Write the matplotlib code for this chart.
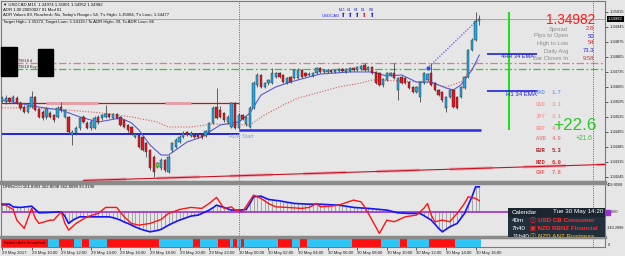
import matplotlib
matplotlib.use("Agg")
import matplotlib.pyplot as plt
from matplotlib.patches import Rectangle
import numpy as np

plt.rcParams["font.family"] = ["Liberation Sans", "DejaVu Sans", "Noto Sans CJK JP"]

W, H = 625, 256
BG = "#e6e6e6"
FRAME = "#7a7a7a"

# USDCAD M15, 29 May 08:00 .. 30 May 16:15 (one value per bar)
opens = [1.34598, 1.34594, 1.34612, 1.34598, 1.34612, 1.34589, 1.34570, 1.34547, 1.34570, 1.34617,
         1.34561, 1.34547, 1.34524, 1.34542, 1.34533, 1.34524, 1.34570, 1.34524, 1.34524, 1.34440,
         1.34449, 1.34472, 1.34524, 1.34496, 1.34472, 1.34472, 1.34524, 1.34519, 1.34524, 1.34538,
         1.34519, 1.34538, 1.34524, 1.34510, 1.34486, 1.34477, 1.34430, 1.34440, 1.34430, 1.34402,
         1.34370, 1.34337, 1.34290, 1.34285, 1.34323, 1.34267, 1.34370, 1.34383, 1.34407, 1.34430,
         1.34454, 1.34435, 1.34440, 1.34440, 1.34444, 1.34435, 1.34454, 1.34496, 1.34570, 1.34556,
         1.34542, 1.34500, 1.34477, 1.34589, 1.34472, 1.34533, 1.34491, 1.34477, 1.34566, 1.34673,
         1.34720, 1.34664, 1.34682, 1.34682, 1.34710, 1.34729, 1.34720, 1.34682, 1.34710, 1.34706,
         1.34706, 1.34743, 1.34729, 1.34720, 1.34715, 1.34729, 1.34752, 1.34734, 1.34734, 1.34743,
         1.34734, 1.34738, 1.34748, 1.34734, 1.34738, 1.34752, 1.34743, 1.34748, 1.34766, 1.34743,
         1.34757, 1.34734, 1.34729, 1.34673, 1.34696, 1.34720, 1.34729, 1.34650, 1.34710, 1.34706,
         1.34687, 1.34664, 1.34640, 1.34617, 1.34682, 1.34696, 1.34729, 1.34682, 1.34650, 1.34640,
         1.34566, 1.34617, 1.34650, 1.34617, 1.34617, 1.34659, 1.34710, 1.34836, 1.34883, 1.34974]
highs = [1.34622, 1.34626, 1.34617, 1.34626, 1.34622, 1.34598, 1.34580, 1.34584, 1.34645, 1.34622,
         1.34566, 1.34556, 1.34570, 1.34552, 1.34538, 1.34575, 1.34594, 1.34561, 1.34528, 1.34463,
         1.34482, 1.34524, 1.34533, 1.34505, 1.34510, 1.34528, 1.34533, 1.34538, 1.34580, 1.34542,
         1.34542, 1.34542, 1.34528, 1.34514, 1.34491, 1.34482, 1.34449, 1.34444, 1.34435, 1.34407,
         1.34374, 1.34346, 1.34313, 1.34332, 1.34327, 1.34346, 1.34407, 1.34426, 1.34440, 1.34458,
         1.34458, 1.34458, 1.34449, 1.34444, 1.34449, 1.34463, 1.34500, 1.34575, 1.34659, 1.34575,
         1.34547, 1.34533, 1.34594, 1.34594, 1.34542, 1.34538, 1.34528, 1.34575, 1.34692, 1.34729,
         1.34724, 1.34687, 1.34701, 1.34752, 1.34734, 1.34734, 1.34724, 1.34710, 1.34715, 1.34748,
         1.34752, 1.34748, 1.34734, 1.34734, 1.34734, 1.34757, 1.34757, 1.34748, 1.34748, 1.34748,
         1.34748, 1.34752, 1.34752, 1.34752, 1.34757, 1.34757, 1.34762, 1.34766, 1.34776, 1.34762,
         1.34762, 1.34738, 1.34734, 1.34706, 1.34734, 1.34734, 1.34776, 1.34710, 1.34715, 1.34710,
         1.34692, 1.34668, 1.34668, 1.34692, 1.34734, 1.34729, 1.34776, 1.34687, 1.34654, 1.34645,
         1.34622, 1.34654, 1.34654, 1.34622, 1.34668, 1.34715, 1.34841, 1.34893, 1.35015, 1.35001]
lows = [1.34589, 1.34584, 1.34589, 1.34594, 1.34584, 1.34556, 1.34542, 1.34542, 1.34566, 1.34552,
        1.34519, 1.34510, 1.34514, 1.34519, 1.34500, 1.34519, 1.34547, 1.34519, 1.34444, 1.34393,
        1.34440, 1.34463, 1.34496, 1.34468, 1.34463, 1.34468, 1.34491, 1.34510, 1.34519, 1.34519,
        1.34514, 1.34514, 1.34482, 1.34472, 1.34454, 1.34440, 1.34426, 1.34379, 1.34365, 1.34337,
        1.34276, 1.34243, 1.34285, 1.34276, 1.34267, 1.34262, 1.34360, 1.34379, 1.34402, 1.34426,
        1.34435, 1.34430, 1.34426, 1.34426, 1.34421, 1.34430, 1.34449, 1.34491, 1.34514, 1.34519,
        1.34500, 1.34491, 1.34472, 1.34468, 1.34468, 1.34510, 1.34482, 1.34472, 1.34561, 1.34664,
        1.34659, 1.34659, 1.34673, 1.34678, 1.34706, 1.34706, 1.34682, 1.34678, 1.34682, 1.34701,
        1.34701, 1.34706, 1.34710, 1.34715, 1.34710, 1.34724, 1.34729, 1.34729, 1.34729, 1.34729,
        1.34729, 1.34734, 1.34734, 1.34729, 1.34734, 1.34738, 1.34738, 1.34743, 1.34738, 1.34738,
        1.34724, 1.34678, 1.34668, 1.34664, 1.34692, 1.34715, 1.34701, 1.34603, 1.34678, 1.34678,
        1.34654, 1.34636, 1.34636, 1.34594, 1.34678, 1.34692, 1.34668, 1.34645, 1.34622, 1.34594,
        1.34547, 1.34612, 1.34566, 1.34561, 1.34612, 1.34654, 1.34706, 1.34832, 1.34879, 1.34952]
closes = [1.34612, 1.34612, 1.34598, 1.34617, 1.34589, 1.34566, 1.34547, 1.34575, 1.34617, 1.34556,
          1.34524, 1.34519, 1.34561, 1.34524, 1.34510, 1.34566, 1.34556, 1.34556, 1.34454, 1.34454,
          1.34472, 1.34519, 1.34500, 1.34472, 1.34500, 1.34519, 1.34500, 1.34533, 1.34538, 1.34524,
          1.34538, 1.34519, 1.34486, 1.34477, 1.34463, 1.34449, 1.34444, 1.34383, 1.34370, 1.34360,
          1.34285, 1.34267, 1.34309, 1.34323, 1.34276, 1.34337, 1.34402, 1.34416, 1.34430, 1.34449,
          1.34440, 1.34449, 1.34430, 1.34430, 1.34430, 1.34458, 1.34496, 1.34566, 1.34519, 1.34524,
          1.34510, 1.34524, 1.34589, 1.34472, 1.34533, 1.34514, 1.34524, 1.34566, 1.34682, 1.34720,
          1.34664, 1.34682, 1.34696, 1.34729, 1.34729, 1.34710, 1.34687, 1.34706, 1.34687, 1.34743,
          1.34743, 1.34710, 1.34715, 1.34724, 1.34729, 1.34752, 1.34734, 1.34743, 1.34743, 1.34734,
          1.34743, 1.34748, 1.34738, 1.34748, 1.34752, 1.34743, 1.34757, 1.34762, 1.34743, 1.34757,
          1.34729, 1.34682, 1.34673, 1.34701, 1.34729, 1.34729, 1.34706, 1.34706, 1.34682, 1.34682,
          1.34659, 1.34640, 1.34664, 1.34687, 1.34729, 1.34724, 1.34673, 1.34650, 1.34626, 1.34603,
          1.34617, 1.34650, 1.34570, 1.34566, 1.34664, 1.34710, 1.34836, 1.34883, 1.34972, 1.34982]
signal_bar = 42

# moving averages (bar, price)
ma_fast_x = [0, 10, 16, 21, 26, 32, 35, 37, 40, 43, 45, 47, 50, 54, 56, 59, 62, 64, 67, 70,
             74, 78, 82, 86, 94, 100, 104, 108, 112, 116, 120, 122, 124, 127, 129]
ma_fast_y = [1.34603, 1.34570, 1.34556, 1.34524, 1.34500, 1.34519, 1.34496, 1.34463, 1.34393, 1.34346,
             1.34346, 1.34370, 1.34407, 1.34430, 1.34454, 1.34486, 1.34496, 1.34500, 1.34542, 1.34626,
             1.34664, 1.34687, 1.34706, 1.34724, 1.34734, 1.34734, 1.34715, 1.34720, 1.34687, 1.34687,
             1.34659, 1.34650, 1.34673, 1.34743, 1.34813]
ma_slow_x = [0, 8, 18, 27, 35, 42, 45, 51, 57, 67, 71, 76, 80, 86, 91, 97, 100, 108, 116, 120, 124, 126, 129]
ma_slow_y = [1.34566, 1.34566, 1.34556, 1.34542, 1.34524, 1.34500, 1.34477, 1.34477, 1.34491, 1.34486,
             1.34533, 1.34580, 1.34612, 1.34640, 1.34664, 1.34682, 1.34696, 1.34692, 1.34682, 1.34664,
             1.34687, 1.34729, 1.34790]

# levels
bid = 1.34982
fib_sell = 1.34777
fib_buy = 1.34749
prev_high = 1.34587
prev_low = 1.34443
adr_start = 1.34465
ema_4h = 1.34818
ema_1h = 1.34646
trend_x = [115, 128.4]
trend_y = [1.34752, 1.34975]
channel_x = [22, 163]
channel_y = [1.34227, 1.34302]
target_bar = 137
target_y = [1.34463, 1.35014]
day_start = 64
price_ticks = [1.35015, 1.34945, 1.34875, 1.34805, 1.34735, 1.34665,
               1.34595, 1.34525, 1.34455, 1.34385, 1.34315, 1.34245]

# CCI panel
cci_fast = [111, 111, 111, 73, 68, 65, 70, 76, 83, 35,
            -11, -10, -8, -5, -3, 0, 3, -60, -161, -120,
            -90, -68, -68, -68, -68, -68, -68, -68, -68, -68,
            -80, -95, -114, -140, -160, -185, -210, -231, -250, -265,
            -279, -270, -260, -245, -215, -185, -160, -135, -114, -95,
            -75, -58, -50, -44, -20, 5, 27, 60, 97, 80,
            65, 45, 27, 27, 27, 30, 37, 120, 214, 220,
            224, 200, 178, 170, 163, 158, 148, 138, 130, 121,
            118, 116, 113, 111, 111, 110, 110, 107, 104, 101,
            99, 97, 90, 82, 74, 65, 61, 58, 54, 51,
            46, 42, 37, 32, 27, 14, 2, -11, -14, -17,
            -20, -20, -20, -20, -50, -82, -114, -170, -231, -279,
            -245, -209, -185, -161, -90, -20, 97, 214, 355, 355]
cci_slow_x = [0, 1, 3, 4, 6, 8, 9, 10, 13, 14, 16, 17, 18, 20, 23, 26, 28, 31, 33, 35,
              37, 40, 43, 45, 48, 51, 54, 56, 58, 60, 62, 63, 65, 68, 70, 72, 74, 77, 81, 83,
              85, 86, 89, 91, 95, 97, 98, 100, 102, 104, 106, 108, 109, 112, 114, 115, 116, 117, 119, 121,
              123, 125, 126, 128, 129]
cci_slow = [97, 97, 36, -114, -231, 51, -90, -161, -114, -114, 3, -161, -255, -161, -67, -20, 65, 65, -67, -161,
            -185, -161, -105, -20, 36, 65, 51, 121, 206, 51, 73, 27, 3, 238, 192, 121, 73, 65, 51, 65,
            121, 73, 83, 97, 168, 145, 73, -114, -302, -114, -137, -90, -67, -43, 51, 121, -43, -137, -114, -137,
            -20, 121, 215, 192, 159]

# Heiken Ashi strip as runs
ha_runs = [("R", 13), ("C", 3), ("R", 4), ("C", 2), ("R", 2), ("C", 5), ("R", 14), ("C", 9), ("R", 2),
           ("C", 5), ("R", 3), ("C", 1), ("R", 1), ("C", 1), ("R", 1), ("C", 9), ("R", 4), ("C", 2),
           ("R", 2), ("C", 12), ("R", 8), ("C", 5), ("R", 2), ("C", 6), ("R", 7), ("C", 7)]

date_labels = ["29 May 2017", "29 May 10:00", "29 May 12:00", "29 May 14:00", "29 May 16:00",
               "29 May 18:00", "29 May 20:00", "29 May 22:00", "30 May 00:00", "30 May 02:00",
               "30 May 04:00", "30 May 06:00", "30 May 08:00", "30 May 10:00", "30 May 12:00",
               "30 May 14:00", "30 May 16:00"]

currencies = ["CAD", "USD", "JPY", "GBP", "AUD", "EUR", "NZD", "CHF"]
strength = [1.7, 3.1, 3.1, 4.2, 4.9, 5.3, 6.0, 7.6]
cur_colors = ["#7a9eee", "#f0a0a0", "#f0a0a0", "#eca0a0", "#e08888", "#a02828", "#c82828", "#e06a6a"]

info_names = ["Spread", "Pips to Open", "High to Low", "Daily Avg", "Bar Closes In"]
info_vals = ["2.8", "50", "54", "73.3", "9:58"]
info_cols = ["#d03030", "#2b2bd8", "#c83030", "#2b2bd8", "#c04040"]

fig = plt.figure(figsize=(W / 100, H / 100), dpi=100, facecolor=BG)
XL = (-0.27, 162.97)


def px_axes(x0, y0, x1, y1, z=1):
    a = fig.add_axes([x0 / W, 1 - y1 / H, (x1 - x0) / W, (y1 - y0) / H], zorder=z)
    a.set_facecolor(BG)
    a.set_xlim(*XL)
    for s in a.spines.values():
        s.set_color(FRAME)
        s.set_linewidth(0.8)
    return a


# ---- main price chart
ax = px_axes(1, 1, 605, 181)
ax.set_ylim(1.342247, 1.350653)
idx = np.arange(len(closes))
o = np.array(opens)
c = np.array(closes)
up = c >= o
cols = np.where(up, "#20a8e4", "#e8121a")
cols[signal_bar] = "#5ee83a"

ax.axhline(bid, color="#9c9c9c", lw=0.6, zorder=1)
ax.axhline(fib_sell, color="#e47c7c", lw=0.9, ls=(0, (6, 2, 1.5, 2)), zorder=1)
ax.axhline(fib_buy, color="#3cc23c", lw=0.9, ls=(0, (6, 2, 1.5, 2)), zorder=1)
ax.hlines(prev_high, XL[0], day_start, color="#cc1010", lw=0.9, zorder=1)
ax.hlines(prev_high + 0.00003, 12, 26, color="#e4a0a8", lw=2.2, zorder=1)
ax.hlines(prev_high + 0.00003, 44, 51, color="#e4a0a8", lw=2.2, zorder=1)
ax.hlines(prev_low, XL[0], day_start, color="#0000dd", lw=1.2, zorder=1)
ax.hlines(adr_start - 0.00008, day_start, 129.5, color="#f6f0cc", lw=0.8, zorder=1)
ax.hlines(adr_start, day_start, 129.5, color="#2a2ae0", lw=1.8, zorder=1)
ax.plot(channel_x, channel_y, color="#e8a6b0", lw=2.2, ls=(0, (14, 10)), zorder=1)
ax.plot(channel_x, channel_y, color="#cc1020", lw=0.8, zorder=1)

ax.plot(ma_slow_x, ma_slow_y, color="#e05a5a", lw=0.8, ls=(0, (1, 1.5)), zorder=2)
ax.plot(ma_fast_x, ma_fast_y, color="#5a5ad6", lw=0.8, zorder=2)

ax.vlines(idx, lows, highs, color="#4a4a4a", lw=0.6, zorder=3)
body = np.maximum(np.abs(c - o), 0.000015)
ax.bar(idx, body, bottom=np.minimum(o, c), width=0.62, color=cols,
       edgecolor="#2a2a2a", linewidth=0.3, zorder=4)

ax.plot(trend_x, trend_y, color="#3a3aee", lw=0.8, ls=(0, (1, 1.5)), zorder=5)
ax.plot(trend_x[0], trend_y[0], "o", ms=2, color="#2a48e0", zorder=5)
ax.vlines(target_bar, target_y[0], target_y[1], color="#22dd22", lw=1.5, zorder=5)
ax.hlines(ema_4h, 131, 144.6, color="#2020e0", lw=1.2, zorder=5)
ax.hlines(ema_1h, 131, 144.8, color="#2020e0", lw=1.2, zorder=5)

ax.set_xticks([])
ax.yaxis.tick_right()
ax.set_yticks(price_ticks)
ax.set_yticklabels([f"{p:.5f}" for p in price_ticks])
ax.tick_params(axis="y", length=2, width=0.5, pad=1.5, labelsize=3.0, colors="#202020")

# ---- CCI panel
cax = px_axes(1, 184, 605, 236)
cax.set_ylim(-338, 395)
cax.vlines(idx, 0, cci_fast, color="#8c8c8c", lw=0.5, zorder=1)
cax.axhline(0, color="#9a30d0", lw=1.2, zorder=2)
cax.plot(idx, cci_fast, color="#1414ff", lw=1.2, zorder=3)
cax.plot(cci_slow_x, cci_slow, color="#ff1414", lw=1.0, zorder=3)
cax.set_xticks([])
cax.set_yticks([])

# ---- Heiken Ashi strip
sax = px_axes(1, 238, 605, 247)
ha = []
for col, n in ha_runs:
    ha += [("#ff1010" if col == "R" else "#2ec6f6")] * n
sax.bar(np.arange(len(ha)), 1, width=1.0, bottom=0, color=ha, linewidth=0)
sax.set_ylim(0, 1)
sax.set_yticks([])
sax.set_xticks(np.arange(0, 129, 8))
sax.set_xticklabels(date_labels, ha="left")
sax.tick_params(axis="x", length=2, width=0.5, pad=1, labelsize=3.1, colors="#202020")

for a in (ax, cax, sax):
    a.axvline(day_start, color="#555555", lw=0.6, ls=(0, (1.2, 1.5)), zorder=6)
    a.axvline(159.7, color="#555555", lw=0.6, ls=(0, (1.2, 1.5)), zorder=6)

# ---- overlay texts in pixel coords
ov = fig.add_axes([0, 0, 1, 1], zorder=10)
ov.set_xlim(0, W)
ov.set_ylim(H, 0)
ov.axis("off")
ov.patch.set_alpha(0)

ov.add_patch(Rectangle((0, 181), 606, 3, color="#8a8a8a"))
ov.add_patch(Rectangle((0, 236), 606, 2, color="#8a8a8a"))

hdr = ["\u25bc USDCAD,M15  1.34974 1.35001 1.34952 1.34982",
       "ADR 1.00 20050027 01 Mod 01",
       "ADR Values 89, Reached= No, Today's Range= 54, T's High= 1.35004, T's Low= 1.34477",
       "Target High= 1.35372, Target Low= 1.34119 / To ADR High= 39, To ADR Low= 86"]
for t, yy in zip(hdr, [5, 10, 15, 22]):
    ov.text(3, yy, t, fontsize=3.1, color="#101010", va="center")

ov.add_patch(Rectangle((1, 47), 16, 29, color="black"))
ov.add_patch(Rectangle((38, 49), 15, 27, color="black"))
ov.text(18, 61, "79618 d", fontsize=2.8, color="#602020", va="center")
ov.text(18, 67, "79618 Buy", fontsize=2.8, color="#303030", va="center")
ov.text(229, 136, "ADR Start", fontsize=4, color="#7ea2c8", va="center")

ov.text(322, 16, "USDCAD", fontsize=3.1, color="#2a2ae0", va="center")
for t, xx, cc in zip(["M15", "H1", "H4", "D1", "W1"], [342, 349, 356, 363, 371],
                     ["#2020d0", "#2020d0", "#2020d0", "#e02020", "#2020d0"]):
    ov.text(xx, 10, t, fontsize=2.4, color="#2020d0", ha="center", va="center")
    ov.text(xx, 15.5, "\u2b06", fontsize=4, color=cc, ha="center", va="center")

ov.text(501, 57, "4HR 34 EMA", fontsize=4.0, color="#2020d0", va="center")
ov.text(506, 94, "H1 34 EMA", fontsize=4.3, color="#2020d0", va="center")

ov.text(595, 20, "1.34982", fontsize=9.8, color="#ff1a1a", ha="right", va="center")
for k, (nm, vv, cc) in enumerate(zip(info_names, info_vals, info_cols)):
    yy = [29, 36, 43, 51, 58][k]
    ov.text(568, yy, nm, fontsize=4.2, color="#8c8c8c", ha="right", va="center")
    ov.text(594, yy, vv, fontsize=4.2, color=cc, ha="right", va="center")

for k, (cu, sv, cc) in enumerate(zip(currencies, strength, cur_colors)):
    yy = [93, 105, 116, 128, 139, 151, 162, 173][k]
    ov.text(536, yy, cu, fontsize=4, color=cc, family="Liberation Mono",
            weight="bold", va="center")
    ov.text(552, yy, f"{sv:.1f}", fontsize=4, color=cc, family="Liberation Mono",
            weight="bold", va="center")

ov.text(597, 125, "+22.6", fontsize=12.3, color="#2ec52e", ha="right", va="center")
ov.text(592, 139, "+21.6", fontsize=4.8, color="#2ec52e", ha="right", va="center")

ov.text(608, 19, "1.34982", fontsize=3.0, color="white", va="center",
        bbox=dict(boxstyle="square,pad=0.25", fc="black", ec="none"))

ov.text(3, 187, "DRBsCCI 161.8903 362.8098 362.8098 93.3190", fontsize=3.1, color="#101010", va="center")
ov.text(607, 184.5, "408.8068", fontsize=2.8, color="#202020", va="center")
ov.add_patch(Rectangle((605, 209.5), 5, 5, color="#9a30d0"))
ov.text(611, 212, "0.00", fontsize=2.8, color="#202020", va="center")
ov.text(607, 228, "-340.2898", fontsize=2.8, color="#202020", va="center")
ov.text(608, 245, "0", fontsize=2.8, color="#202020", va="center")
ov.text(4, 242.5, "Heiken Ashi Smoothed", fontsize=3, color="#300000", va="center")

# ---- calendar widget
cal = fig.add_axes([508 / W, 1 - 237 / H, 97 / W, 29 / H], zorder=12)
cal.set_xlim(0, 97)
cal.set_ylim(29, 0)
cal.axis("off")
cal.add_patch(Rectangle((0, 0), 97, 29, color="#22303e"))
cal.add_patch(Rectangle((0, 0), 97, 8, color="#1a2530"))
cal.text(4, 4, "Calendar", fontsize=4.5, color="white", va="center")
cal.text(95, 4, "Tue 30 May 14:20", fontsize=4.5, color="white", ha="right", va="center")
rows = [("40m", "\u24d8 USD CB Consumer", "#ff2a2a"),
        ("7h40", "\u25a3 NZD RBNZ Financial", "#ff2a2a"),
        ("11h40", "\u24d8 NZD ANZ Business", "#c8a030")]
for k, (tm, ev, cc) in enumerate(rows):
    yy = 12 + k * 8
    cal.text(4, yy, tm, fontsize=4.5, color="white", va="center", clip_on=True)
    cal.text(22, yy, ev, fontsize=4.5, color=cc, weight="bold", va="center", clip_on=True,
             family=["Liberation Sans", "DejaVu Sans", "Noto Sans CJK JP"])

fig.savefig("out.png", dpi=100, facecolor=BG)
